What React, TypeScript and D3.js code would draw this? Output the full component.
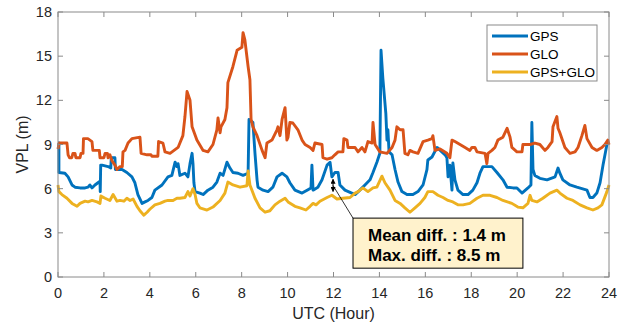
import React from "react";
import * as d3 from "d3";

const xTicks = [0, 2, 4, 6, 8, 10, 12, 14, 16, 18, 20, 22, 24];
const yTicks = [0, 3, 6, 9, 12, 15, 18];
const seriesNames = ["GPS", "GLO", "GPS+GLO"];
const seriesColors = ["#0072BD", "#D95319", "#EDB120"];
const annotationLines = ["Mean diff. : 1.4 m", "Max. diff. : 8.5 m"];

const gps: [number, number][] = [
  [0, 9.1], [0.04, 9.1], [0.04, 7.1], [0.3, 7.05], [0.44, 6.8], [0.61, 6.25], [0.74, 6.1], [0.96, 6.05],
  [1.18, 6.05], [1.31, 6.1], [1.39, 6.25], [1.48, 6.05], [1.61, 6.25], [1.74, 6.4], [1.83, 6.5], [1.84, 5.8],
  [1.86, 7.6], [1.92, 7.6], [2.18, 7.5], [2.3, 7.4], [2.32, 8.1], [2.48, 8.1], [2.5, 7.3], [2.79, 7.3],
  [3.0, 7.1], [3.22, 6.8], [3.35, 6.4], [3.48, 5.6], [3.66, 5.0], [3.79, 5.1], [3.92, 5.2], [4.09, 5.4],
  [4.22, 5.9], [4.53, 6.25], [4.79, 6.8], [4.96, 6.9], [5.1, 7.8], [5.18, 7.5], [5.23, 7.7], [5.31, 6.9],
  [5.53, 7.05], [5.66, 6.8], [5.75, 7.7], [5.84, 8.4], [5.88, 7.7], [5.92, 6.4], [5.97, 5.8], [6.18, 5.7],
  [6.32, 5.6], [6.53, 5.9], [6.75, 6.1], [6.92, 6.45], [7.06, 7.05], [7.19, 6.9], [7.36, 7.8], [7.49, 7.4],
  [7.62, 7.1], [7.84, 7.05], [8.06, 6.9], [8.28, 7.05], [8.32, 10.7], [8.49, 10.5], [8.58, 8.4], [8.67, 6.6],
  [8.71, 6.1], [8.93, 5.9], [9.15, 5.8], [9.36, 6.1], [9.54, 6.8], [9.76, 7.05], [9.97, 6.8], [10.1, 6.4],
  [10.32, 5.9], [10.63, 5.7], [10.85, 5.9], [11.02, 6.05], [11.06, 7.6], [11.11, 5.9], [11.32, 6.1], [11.5, 6.6],
  [11.72, 7.6], [11.85, 7.8], [11.93, 6.8], [12.06, 7.1], [12.2, 7.1], [12.28, 6.25], [12.5, 5.9], [12.94, 5.6],
  [13.15, 5.9], [13.37, 6.25], [13.59, 6.6], [13.72, 7.1], [13.89, 7.8], [14.02, 8.4], [14.07, 15.4], [14.15, 13.5],
  [14.28, 11.1], [14.33, 9.3], [14.37, 10.0], [14.42, 8.5], [14.55, 8.3], [14.68, 7.3], [14.81, 6.45], [14.98, 5.8],
  [15.2, 5.6], [15.46, 5.6], [15.68, 5.8], [15.9, 6.25], [16.07, 7.3], [16.11, 7.95], [16.29, 8.15], [16.51, 8.8],
  [16.72, 8.5], [16.86, 8.3], [16.94, 8.1], [16.99, 6.8], [17.07, 7.6], [17.16, 5.9], [17.2, 7.75], [17.29, 6.6],
  [17.42, 5.9], [17.64, 5.6], [17.86, 5.6], [18.07, 5.9], [18.25, 6.4], [18.38, 7.05], [18.51, 7.5], [18.9, 7.5],
  [19.12, 7.1], [19.38, 6.6], [19.56, 6.1], [19.82, 6.05], [19.99, 6.05], [20.21, 5.7], [20.47, 6.05], [20.6, 6.25],
  [20.64, 10.5], [20.69, 7.3], [20.77, 6.9], [20.99, 6.7], [21.3, 6.6], [21.65, 6.8], [21.78, 7.4], [21.86, 7.05],
  [21.99, 6.6], [22.3, 6.25], [22.6, 6.1], [23.04, 5.9], [23.17, 5.4], [23.3, 5.4], [23.47, 5.7], [23.61, 6.4],
  [23.74, 7.6], [23.91, 9.0], [24, 9.1],
];

const glo: [number, number][] = [
  [0, 8.7], [0.05, 9.1], [0.39, 9.1], [0.44, 8.3], [0.5, 8.1], [0.6, 8.1], [0.65, 8.4], [0.74, 8.4],
  [0.78, 8.1], [0.96, 8.1], [1.0, 8.4], [1.09, 8.4], [1.11, 9.4], [1.3, 9.4], [1.48, 9.2], [1.52, 8.6],
  [1.8, 8.6], [1.83, 8.1], [2.0, 8.1], [2.05, 8.4], [2.15, 8.4], [2.18, 8.1], [2.26, 8.3], [2.35, 7.9],
  [2.48, 7.6], [2.57, 7.3], [2.7, 7.5], [2.8, 7.5], [2.83, 8.5], [2.92, 8.6], [3.05, 9.1], [3.22, 9.4],
  [3.57, 9.5], [3.62, 8.4], [3.88, 8.3], [4.05, 8.3], [4.09, 8.2], [4.35, 8.2], [4.38, 9.2], [4.57, 9.1],
  [4.66, 8.5], [4.88, 8.4], [5.23, 8.8], [5.44, 9.6], [5.53, 10.9], [5.62, 12.6], [5.75, 12.0], [5.84, 10.2],
  [6.05, 9.3], [6.32, 8.6], [6.53, 8.5], [6.75, 9.0], [6.92, 10.0], [6.97, 10.8], [7.06, 9.8], [7.1, 10.2],
  [7.27, 10.7], [7.36, 11.5], [7.4, 13.2], [7.62, 14.3], [7.8, 15.4], [8.01, 15.6], [8.06, 16.6], [8.14, 16.1],
  [8.28, 14.3], [8.36, 13.4], [8.41, 10.7], [8.49, 10.2], [8.67, 9.6], [8.89, 8.6], [9.02, 8.1], [9.1, 9.1],
  [9.32, 9.3], [9.54, 10.0], [9.58, 10.2], [9.67, 9.6], [9.76, 10.7], [9.89, 11.5], [9.97, 9.3], [10.02, 9.5],
  [10.1, 10.5], [10.23, 10.46], [10.45, 10.0], [10.63, 9.3], [10.76, 9.0], [10.98, 8.8], [11.11, 8.6], [11.19, 9.1],
  [11.5, 9.0], [11.54, 8.1], [11.72, 8.0], [11.93, 8.1], [12.06, 8.3], [12.2, 8.5], [12.41, 8.5], [12.45, 9.4],
  [12.59, 9.3], [12.63, 8.8], [12.94, 8.8], [13.07, 8.5], [13.24, 8.8], [13.37, 8.5], [13.5, 9.2], [13.68, 9.1],
  [13.72, 10.5], [13.81, 9.0], [14.02, 8.5], [14.33, 8.4], [14.55, 8.8], [14.68, 9.3], [14.76, 10.2], [14.9, 10.0],
  [15.03, 10.0], [15.11, 8.4], [15.24, 8.3], [15.33, 8.6], [15.46, 8.5], [15.68, 8.4], [15.9, 9.2], [16.11, 9.3],
  [16.29, 9.4], [16.33, 9.6], [16.42, 8.6], [16.64, 8.7], [16.94, 8.4], [17.07, 8.1], [17.16, 9.3], [17.29, 9.2],
  [17.51, 9.0], [17.73, 8.8], [17.94, 8.6], [18.03, 8.8], [18.16, 8.8], [18.25, 8.5], [18.6, 8.4], [18.68, 7.7],
  [18.73, 8.4], [18.9, 8.6], [19.03, 8.8], [19.16, 9.3], [19.38, 9.5], [19.56, 10.1], [19.69, 9.5], [19.77, 8.8],
  [19.99, 8.5], [20.21, 8.5], [20.25, 9.0], [20.56, 9.0], [20.77, 9.1], [20.99, 9.0], [21.21, 8.6], [21.34, 8.8],
  [21.52, 9.2], [21.56, 10.2], [21.73, 10.9], [21.78, 10.1], [21.86, 9.8], [22.08, 8.8], [22.3, 8.4], [22.52, 8.5],
  [22.65, 8.8], [22.82, 9.6], [22.95, 10.3], [23.04, 9.4], [23.26, 8.8], [23.47, 8.6], [23.69, 8.8], [23.82, 9.0],
  [23.95, 9.3], [24, 9.0],
];

const gpsGlo: [number, number][] = [
  [0, 6.25], [0.04, 5.8], [0.17, 5.6], [0.39, 5.35], [0.61, 5.0], [0.83, 4.8], [0.96, 5.0], [1.18, 5.15],
  [1.31, 5.1], [1.48, 5.2], [1.7, 5.1], [1.83, 5.0], [1.87, 5.5], [2.05, 5.35], [2.26, 5.2], [2.4, 5.6],
  [2.57, 5.15], [2.7, 5.2], [2.87, 5.15], [3.0, 5.35], [3.14, 5.2], [3.27, 5.3], [3.44, 4.8], [3.57, 4.5],
  [3.74, 4.2], [3.88, 4.4], [4.0, 4.6], [4.22, 4.9], [4.44, 5.0], [4.66, 5.15], [4.79, 5.2], [5.01, 5.2],
  [5.18, 5.35], [5.31, 5.35], [5.53, 5.4], [5.66, 5.8], [5.75, 5.5], [5.88, 6.0], [5.97, 5.6], [6.05, 5.0],
  [6.18, 4.7], [6.49, 4.55], [6.75, 4.75], [7.06, 5.2], [7.27, 5.7], [7.4, 6.45], [7.62, 6.25], [7.93, 6.1],
  [8.23, 6.2], [8.28, 7.2], [8.36, 6.25], [8.58, 5.35], [8.8, 4.7], [9.02, 4.4], [9.23, 4.5], [9.45, 4.9],
  [9.67, 5.15], [9.89, 5.35], [10.02, 5.1], [10.32, 4.8], [10.54, 4.7], [10.8, 4.55], [10.98, 4.8], [11.11, 5.0],
  [11.24, 4.9], [11.41, 5.15], [11.72, 5.4], [11.93, 5.55], [12.15, 5.3], [12.41, 5.35], [12.72, 5.4], [12.94, 5.7],
  [13.07, 5.8], [13.28, 6.05], [13.5, 5.8], [13.72, 6.05], [13.89, 6.1], [14.11, 6.85], [14.24, 6.4], [14.46, 5.9],
  [14.68, 5.2], [14.9, 5.0], [15.11, 4.7], [15.33, 4.4], [15.55, 4.7], [15.77, 5.0], [15.98, 5.4], [16.11, 5.8],
  [16.33, 5.8], [16.55, 5.55], [16.77, 5.4], [16.99, 5.2], [17.2, 5.1], [17.42, 4.9], [17.64, 4.9], [17.94, 5.0],
  [18.25, 5.35], [18.51, 5.55], [18.82, 5.55], [19.12, 5.4], [19.38, 5.2], [19.77, 5.0], [20.03, 4.75], [20.25, 4.7],
  [20.47, 5.0], [20.56, 5.55], [20.64, 5.2], [20.86, 5.1], [21.12, 5.35], [21.43, 5.7], [21.73, 5.9], [21.86, 5.7],
  [22.17, 5.35], [22.43, 5.2], [22.74, 4.9], [23.04, 4.7], [23.3, 4.55], [23.52, 4.7], [23.69, 4.9], [23.91, 5.8],
  [24, 6.25],
];

const arrowHour = 11.98;
const arrowTop = 7.05;
const arrowBottom = 5.4;
const boxHours = [12.85, 20.25];
const boxValues = [4.0, 0.6];

export default function App() {
  const W = 623, H = 325;
  const x = d3.scaleLinear().domain([0, 24]).range([58, 609]);
  const y = d3.scaleLinear().domain([0, 18]).range([277, 12]);
  const line = d3.line<[number, number]>().x(d => x(d[0])).y(d => y(d[1]));
  const series = [gps, glo, gpsGlo];
  const axisCol = "#8a8a8a";
  const textCol = "#262626";
  const font = "Liberation Sans, Arial, sans-serif";
  const [x0, x1] = x.range();
  const [yb, yt] = y.range();
  const legX = 487, legY = 25, legW = 110, legH = 56;
  const bx0 = x(boxHours[0]), bx1 = x(boxHours[1]);
  const by0 = y(boxValues[0]), by1 = y(boxValues[1]);
  const ax = x(arrowHour);
  return (
    <svg width={W} height={H} style={{ position: "absolute", left: 0, top: 0, background: "#fff" }}>
      <defs>
        <marker id="ah" viewBox="0 0 10 10" refX="9" refY="5" markerWidth="5" markerHeight="5" orient="auto-start-reverse">
          <path d="M0,0 L10,5 L0,10 z" fill="#000" />
        </marker>
      </defs>
      <rect x={0} y={0} width={W} height={H} fill="#fff" />
      <g>
        {series.map((s, i) => (
          <path key={i} d={line(s) || ""} fill="none" stroke={seriesColors[i]} strokeWidth={2.9} strokeLinejoin="round" />
        ))}
      </g>
      <rect x={x0} y={yt} width={x1 - x0} height={yb - yt} fill="none" stroke={axisCol} strokeWidth={1} />
      {xTicks.map(t => (
        <g key={"x" + t}>
          <line x1={x(t)} x2={x(t)} y1={yb} y2={yb - 5} stroke={axisCol} />
          <line x1={x(t)} x2={x(t)} y1={yt} y2={yt + 5} stroke={axisCol} />
          <text x={x(t)} y={yb + 21} textAnchor="middle" fontFamily={font} fontSize={14.5} fill={textCol}>{t}</text>
        </g>
      ))}
      {yTicks.map(t => (
        <g key={"y" + t}>
          <line x1={x0} x2={x0 + 5} y1={y(t)} y2={y(t)} stroke={axisCol} />
          <line x1={x1} x2={x1 - 5} y1={y(t)} y2={y(t)} stroke={axisCol} />
          <text x={x0 - 6} y={y(t) + 5} textAnchor="end" fontFamily={font} fontSize={14.5} fill={textCol}>{t}</text>
        </g>
      ))}
      <text x={(x0 + x1) / 2} y={319} textAnchor="middle" fontFamily={font} fontSize={16} fill={textCol}>UTC (Hour)</text>
      <text transform={`translate(28,${(yb + yt) / 2}) rotate(-90)`} textAnchor="middle" fontFamily={font} fontSize={16} fill={textCol}>VPL (m)</text>
      <rect x={legX} y={legY} width={legW} height={legH} fill="#fff" stroke={axisCol} strokeWidth={1} />
      {seriesNames.map((n, i) => (
        <g key={n}>
          <line x1={legX + 5} x2={legX + 41} y1={legY + 11 + i * 18} y2={legY + 11 + i * 18} stroke={seriesColors[i]} strokeWidth={2.9} />
          <text x={legX + 43} y={legY + 16 + i * 18} fontFamily={font} fontSize={13.5} fill="#000">{n}</text>
        </g>
      ))}
      <line x1={ax} x2={ax} y1={y(arrowTop) + 6} y2={y(arrowBottom) - 6} stroke="#000" strokeWidth={1} markerStart="url(#ah)" markerEnd="url(#ah)" />
      <line x1={bx0} y1={by0} x2={ax} y2={y(arrowBottom) - 12} stroke="#000" strokeWidth={0.8} />
      <rect x={bx0} y={by0} width={bx1 - bx0} height={by1 - by0} fill="#FFF2CC" stroke="#000" strokeWidth={1} />
      {annotationLines.map((t, i) => (
        <text key={i} x={bx0 + 15} y={by0 + 23 + i * 20} fontFamily={font} fontSize={17} fontWeight="bold" fill="#000">{t}</text>
      ))}
    </svg>
  );
}
